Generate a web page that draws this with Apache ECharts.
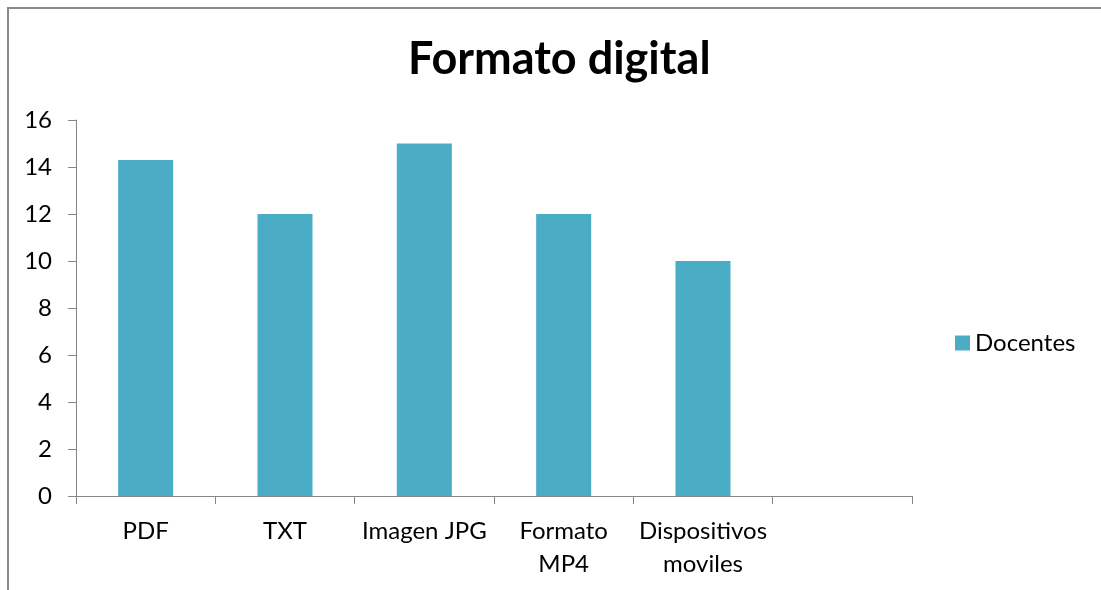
<!DOCTYPE html>
<html>
<head>
<meta charset="utf-8">
<script src="https://cdn.jsdelivr.net/npm/echarts@6/dist/echarts.min.js"></script>
<style>
  html, body { margin: 0; padding: 0; background: #fff; }
  #chart { width: 1101px; height: 590px; }
</style>
</head>
<body>
<div id="chart"></div>
<script>
// categorias (la ultima esta vacia en el original)
const categories = ['PDF', 'TXT', 'Imagen JPG', 'Formato\nMP4', 'Dispositivos\nmoviles', ''];
const docentes = [14.3, 12, 15, 12, 10, null];
const yTicks = [0, 2, 4, 6, 8, 10, 12, 14, 16];

const font = 'Lato, "Open Sans", sans-serif';
const axisGray = '#868686';

const myChart = echarts.init(document.getElementById('chart'));
myChart.setOption({
    animation: false,
    backgroundColor: '#fff',
    textStyle: { fontFamily: font },
    title: {
        text: 'Formato digital',
        left: 408,
        top: 37,
        padding: 0,
        textStyle: { fontSize: 45, fontWeight: 'bold', color: '#000', fontFamily: font }
    },
    legend: {
        data: ['Docentes'],
        left: 950,
        top: 326,
        orient: 'vertical',
        icon: 'rect',
        itemWidth: 15,
        itemHeight: 15,
        itemGap: 8,
        textStyle: { fontSize: 24, color: '#000', fontFamily: font }
    },
    grid: { left: 76, right: 189, top: 120, bottom: 94, containLabel: false },
    xAxis: {
        type: 'category',
        data: categories,
        axisLine: { lineStyle: { color: axisGray, width: 1 } },
        axisTick: { show: true, alignWithLabel: false, length: 8, lineStyle: { color: axisGray } },
        axisLabel: {
            interval: 0,
            margin: 19,
            fontSize: 24,
            lineHeight: 33,
            color: '#000',
            fontFamily: font
        }
    },
    yAxis: {
        type: 'value',
        min: yTicks[0],
        max: yTicks[yTicks.length - 1],
        interval: 2,
        splitLine: { show: false },
        axisLine: { show: true, lineStyle: { color: axisGray, width: 1 } },
        axisTick: { show: true, length: 8, lineStyle: { color: axisGray } },
        axisLabel: { margin: 24, fontSize: 24, color: '#000', fontFamily: font }
    },
    series: [
        {
            name: 'Docentes',
            type: 'bar',
            data: docentes,
            barWidth: '39.5%',
            itemStyle: { color: '#4BACC6' }
        }
    ],
    graphic: [
        {
            type: 'polyline',
            shape: { points: [[8, 590], [8, 8], [1101, 8]] },
            style: { stroke: '#8a8a8a', lineWidth: 2, fill: null }
        }
    ]
});
</script>
</body>
</html>
